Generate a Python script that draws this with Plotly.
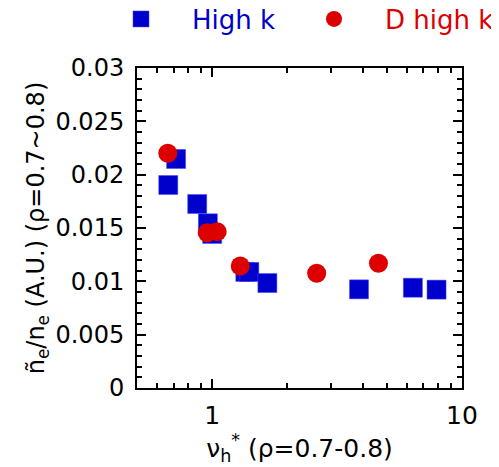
import plotly.graph_objects as go

# High k (blue squares)
highk_x = [0.667, 0.717, 0.871, 0.961, 1.0, 1.357, 1.408, 1.663, 3.87, 6.36, 7.91]
highk_y = [0.01903, 0.02147, 0.01725, 0.01544, 0.01444, 0.01088, 0.01088, 0.00984, 0.00925, 0.0094, 0.00922]

# D high k (red circles)
dhighk_x = [0.664, 0.955, 1.047, 1.295, 2.62, 4.63]
dhighk_y = [0.0220, 0.01456, 0.01466, 0.01144, 0.01075, 0.01169]

x_tickvals = [1, 10]
x_minor = [0.5, 0.6, 0.7, 0.8, 0.9, 2, 3, 4, 5, 6, 7, 8, 9]

BLUE = "#0000CC"
RED = "#DD0000"
FONT = "DejaVu Sans"

fig = go.Figure()
fig.add_trace(go.Scatter(
    x=highk_x, y=highk_y, mode="markers",
    name=f"<span style='color:{BLUE}'>High k</span>",
    legendwidth=86,
    marker=dict(symbol="square", size=19, color=BLUE,
                line=dict(width=0.5, color="#4444ff")),
))
fig.add_trace(go.Scatter(
    x=dhighk_x, y=dhighk_y, mode="markers",
    name=f"<span style='color:{RED}'>D high k</span>",
    legendwidth=125,
    marker=dict(symbol="circle", size=19, color=RED, line=dict(width=0)),
))

# page body has an 8px margin: figure is 491x459 so it fills the 499x467 window
fig.update_layout(
    width=491, height=459,
    margin=dict(l=129, r=37, t=60, b=79, autoexpand=False),
    paper_bgcolor="white", plot_bgcolor="white",
    font=dict(family=FONT, size=24, color="black"),
    showlegend=True,
    legend=dict(
        orientation="h", x=-0.1446, xanchor="left", y=1.153, yanchor="middle",
        font=dict(size=26),
        itemwidth=92,
        bgcolor="rgba(0,0,0,0)",
    ),
)

fig.update_xaxes(
    type="log", range=[-0.301, 1.0],
    tickmode="array", tickvals=x_tickvals, ticktext=["1", "10"],
    ticks="inside", ticklen=9, tickwidth=2, tickcolor="black",
    minor=dict(tickmode="array", tickvals=x_minor, ticks="inside", ticklen=5,
               tickwidth=2, tickcolor="black", showgrid=False),
    showline=True, linewidth=2, linecolor="black", mirror="ticks",
    showgrid=False, zeroline=False,
    tickfont=dict(size=25),
    ticklabelstandoff=4,
    title=dict(text="ν<sub>h</sub><sup>*</sup> (ρ=0.7-0.8)", font=dict(size=25), standoff=0),
)
fig.update_yaxes(
    range=[0, 0.03],
    tickmode="linear", tick0=0, dtick=0.005,
    ticks="inside", ticklen=9, tickwidth=2, tickcolor="black",
    minor=dict(dtick=0.001, ticks="inside", ticklen=5, tickwidth=2,
               tickcolor="black", showgrid=False),
    showline=True, linewidth=2, linecolor="black", mirror="ticks",
    showgrid=False, zeroline=False,
    tickfont=dict(size=24),
    ticklabelstandoff=6,
    title=dict(text="ñ<sub>e</sub>/n<sub>e</sub> (A.U.) (ρ=0.7~0.8)", font=dict(size=24), standoff=4),
)

fig.write_html("out.html")
